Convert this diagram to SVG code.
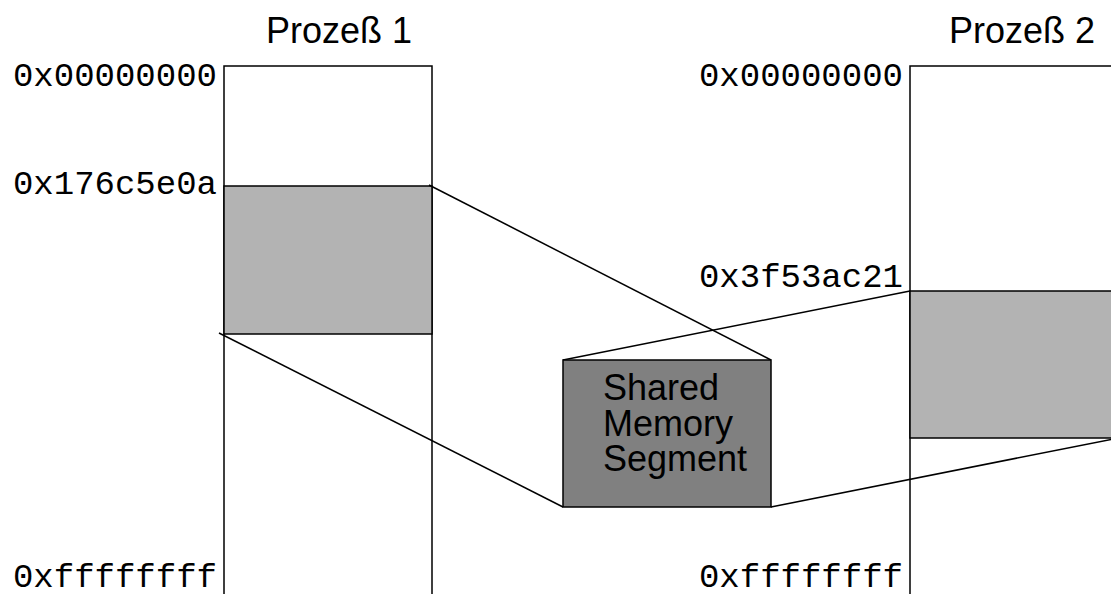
<svg xmlns="http://www.w3.org/2000/svg" width="1111" height="594" viewBox="0 0 1111 594">
<style>
.ln{stroke:#000;stroke-width:1.5;fill:none}
.blk{fill:#b3b3b3;stroke:#000;stroke-width:1.5}
.seg{fill:#808080;stroke:#000;stroke-width:1.5}
.mono{font-family:"Liberation Mono",monospace;font-size:34px;fill:#000;text-anchor:end}
.sans{font-family:"Liberation Sans",Arial,sans-serif;font-size:36px;fill:#000}
</style>
<rect width="1111" height="594" fill="#fff"/>
<g id="prozess1">
<text class="sans" x="266" y="43">Prozeß 1</text>
<path class="ln" d="M224,594 V66 H432 V594"/>
<rect class="blk" x="224" y="186" width="208" height="148"/>
<text class="mono" x="217" y="86">0x00000000</text>
<text class="mono" x="217" y="194">0x176c5e0a</text>
<text class="mono" x="217" y="587">0xffffffff</text>
</g>
<g id="prozess2">
<text class="sans" x="949" y="43">Prozeß 2</text>
<path class="ln" d="M910,594 V66 H1118 V594"/>
<rect class="blk" x="910" y="291" width="208" height="147"/>
<text class="mono" x="903" y="86">0x00000000</text>
<text class="mono" x="903" y="287">0x3f53ac21</text>
<text class="mono" x="903" y="587">0xffffffff</text>
</g>
<g id="connectors">
<line class="ln" x1="429" y1="185" x2="771" y2="360"/>
<line class="ln" x1="219" y1="333" x2="563" y2="507"/>
<line class="ln" x1="910" y1="291" x2="563" y2="360"/>
<line class="ln" x1="1118" y1="438" x2="771" y2="507"/>
</g>
<g id="shared">
<rect class="seg" x="563" y="360" width="208" height="147"/>
<text class="sans" x="603" y="400">Shared</text>
<text class="sans" x="603" y="436">Memory</text>
<text class="sans" x="603" y="471">Segment</text>
</g>
</svg>
